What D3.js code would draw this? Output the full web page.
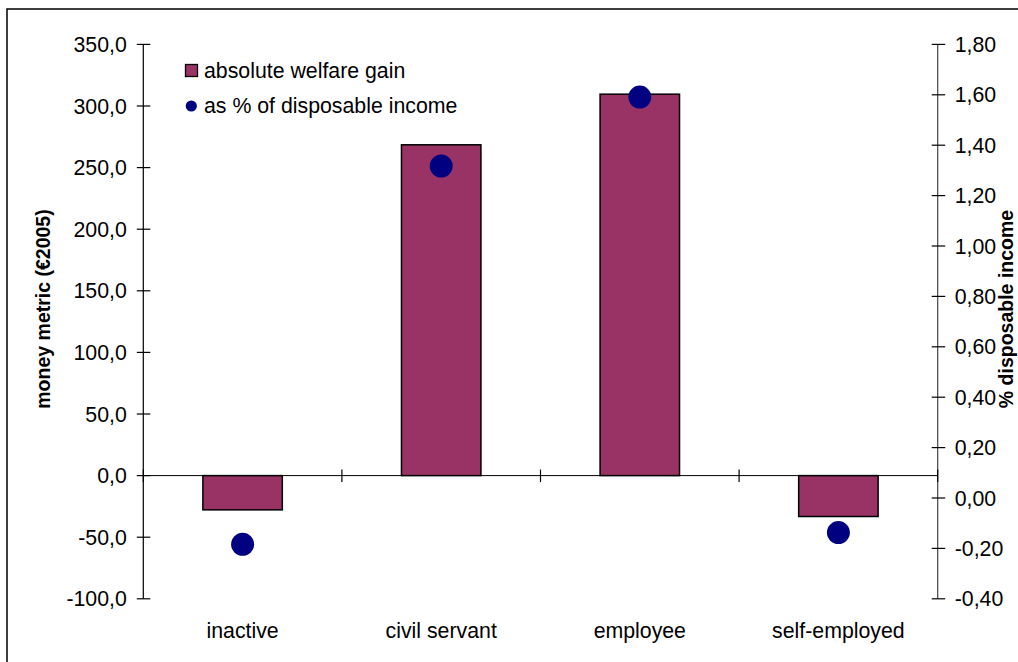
<!DOCTYPE html>
<html>
<head>
<meta charset="utf-8">
<script src="https://cdn.jsdelivr.net/npm/d3@7"></script>
<style>
  html, body { margin: 0; padding: 0; background: #fff; }
  svg { display: block; }
  text { font-family: "Liberation Sans", Arial, sans-serif; }
</style>
</head>
<body>
<svg id="chart" width="1018" height="662"></svg>
<script>
const categories = ["inactive", "civil servant", "employee", "self-employed"];
const absGain = [-27.8, 268.5, 309.6, -33.2];
const pctIncome = [-0.184, 1.317, 1.591, -0.137];
const leftTicks = [-100, -50, 0, 50, 100, 150, 200, 250, 300, 350];
const rightTicks = [-0.4, -0.2, 0, 0.2, 0.4, 0.6, 0.8, 1.0, 1.2, 1.4, 1.6, 1.8];
const seriesNames = ["absolute welfare gain", "as % of disposable income"];

(function () {
const svg = d3.select("#chart");
const pLeft = 143.3, pRight = 937.7, pTop = 44.4, pBottom = 598.8;
const fs = 21.3;

// frame
svg.append("rect").attr("x", 7).attr("y", 9).attr("width", 1100).attr("height", 700)
  .attr("fill", "none").attr("stroke", "#000").attr("stroke-width", 1.5);

const x = d3.scaleBand().domain(categories).range([pLeft, pRight]).paddingInner(0.6).paddingOuter(0.3);
const yL = d3.scaleLinear().domain([-100, 350]).range([pBottom, pTop]);
const yR = d3.scaleLinear().domain([-0.4, 1.8]).range([pBottom, pTop]);

const fmt = (d, p) => d3.format("." + p + "f")(d).replace("−", "-").replace(".", ",");

// left axis
const gL = svg.append("g").attr("transform", `translate(${pLeft},0)`);
gL.append("line").attr("y1", yL(-100)).attr("y2", yL(350)).attr("stroke", "#000").attr("stroke-width", 1.2);
gL.selectAll(".t").data(leftTicks).join("line")
  .attr("x1", -6.5).attr("x2", 7).attr("y1", d => yL(d)).attr("y2", d => yL(d))
  .attr("stroke", "#000").attr("stroke-width", 1.2);
gL.selectAll(".l").data(leftTicks).join("text")
  .attr("x", -16.5).attr("y", d => yL(d)).attr("dy", "0.36em")
  .attr("text-anchor", "end").attr("font-size", fs).attr("fill", "#000")
  .text(d => fmt(d, 1));

// right axis
const gR = svg.append("g").attr("transform", `translate(${pRight},0)`);
gR.append("line").attr("y1", yR(-0.4)).attr("y2", yR(1.8)).attr("stroke", "#444").attr("stroke-width", 1.2);
gR.selectAll(".t").data(rightTicks).join("line")
  .attr("x1", -6).attr("x2", 7.5).attr("y1", d => yR(d)).attr("y2", d => yR(d))
  .attr("stroke", "#000").attr("stroke-width", 1.2);
gR.selectAll(".l").data(rightTicks).join("text")
  .attr("x", 17).attr("y", d => yR(d)).attr("dy", "0.36em")
  .attr("text-anchor", "start").attr("font-size", fs).attr("fill", "#000")
  .text(d => fmt(d, 2));

// bars
svg.selectAll(".bar").data(categories).join("rect")
  .attr("x", d => x(d)).attr("width", x.bandwidth())
  .attr("y", (d, i) => Math.min(yL(absGain[i]), yL(0)))
  .attr("height", (d, i) => Math.abs(yL(absGain[i]) - yL(0)))
  .attr("fill", "#993366").attr("stroke", "#000").attr("stroke-width", 1.5);

// category axis at zero
const y0 = yL(0);
svg.append("line").attr("x1", pLeft).attr("x2", pRight).attr("y1", y0).attr("y2", y0)
  .attr("stroke", "#000").attr("stroke-width", 1);
const edges = [pLeft].concat(categories.slice(1).map(c => x(c) - x.step() * x.paddingInner() / 2)).concat([pRight]);
svg.selectAll(".ct").data(edges).join("line")
  .attr("x1", d => d).attr("x2", d => d).attr("y1", y0 - 6).attr("y2", y0 + 6.5)
  .attr("stroke", "#000").attr("stroke-width", 1.2);
svg.selectAll(".cl").data(categories).join("text")
  .attr("x", d => x(d) + x.bandwidth() / 2).attr("y", 638)
  .attr("text-anchor", "middle").attr("font-size", fs).attr("fill", "#000")
  .text(d => d);

// dots
svg.selectAll(".dot").data(categories).join("circle")
  .attr("cx", d => x(d) + x.bandwidth() / 2)
  .attr("cy", (d, i) => yR(pctIncome[i]))
  .attr("r", 11.5).attr("fill", "#000080");

// axis titles
svg.append("text").attr("transform", `translate(50,309) rotate(-90)`)
  .attr("text-anchor", "middle").attr("font-size", 19.5).attr("font-weight", "bold")
  .text("money metric (€2005)");
svg.append("text").attr("transform", `translate(1012.5,309) rotate(-90)`)
  .attr("text-anchor", "middle").attr("font-size", 19.5).attr("font-weight", "bold")
  .text("% disposable income");

// legend
svg.append("rect").attr("x", 185.5).attr("y", 64.5).attr("width", 12).attr("height", 12)
  .attr("fill", "#993366").attr("stroke", "#000").attr("stroke-width", 1.3);
svg.append("circle").attr("cx", 191.3).attr("cy", 106).attr("r", 5.6).attr("fill", "#000080");
svg.append("text").attr("x", 204).attr("y", 77.5).attr("font-size", fs).text(seriesNames[0]);
svg.append("text").attr("x", 204).attr("y", 112.5).attr("font-size", fs).text(seriesNames[1]);
})();
</script>
</body>
</html>
